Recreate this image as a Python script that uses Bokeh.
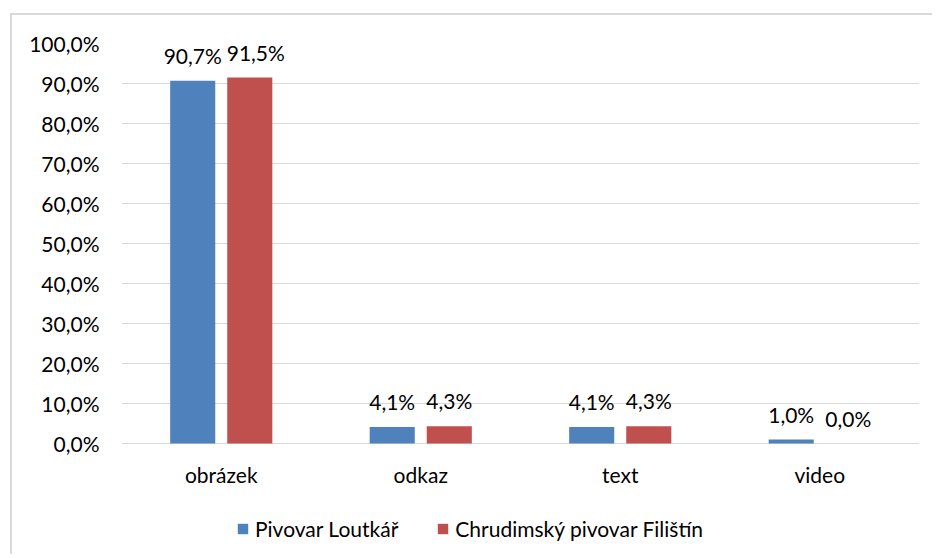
from bokeh.plotting import figure
from bokeh.models import (ColumnDataSource, FactorRange, Range1d, FixedTicker,
                          LabelSet, Legend, LegendItem)
from bokeh.transform import dodge
from bokeh.core.properties import value
from bokeh.embed import file_html
from bokeh.resources import INLINE

categories = ["obrázek", "odkaz", "text", "video"]
series_names = ["Pivovar Loutkář", "Chrudimský pivovar Filištín"]
loutkar = [90.7, 4.1, 4.1, 1.0]
filistin = [91.5, 4.3, 4.3, 0.0]
y_ticks = [0, 10, 20, 30, 40, 50, 60, 70, 80, 90, 100]
colors = ["#4F81BD", "#C0504D"]

FONT = "Lato"
FS = "21px"

def fmt(v):
    return f"{v:.1f}%".replace(".", ",")

# small horizontal nudge of the second series' labels where they would collide
label_nudge_b = [6 if v >= 10 else 0 for v in filistin]

src = ColumnDataSource(dict(
    cat=categories,
    a=loutkar,
    b=filistin,
    zero=[0] * len(categories),
    la=[fmt(v) for v in loutkar],
    lb=[fmt(v) for v in filistin],
    nb=label_nudge_b,
))

# frame extends below the 0 % line so that category labels and legend fit inside
p = figure(width=922, height=541, x_range=FactorRange(*categories, range_padding=0),
           y_range=Range1d(-28.25, 100), output_backend="svg", toolbar_location=None,
           min_border_left=109, min_border_right=15, min_border_top=28,
           min_border_bottom=0)
p.margin = (13, 0, 0, 10)
p.styles = {"border-top": "2px solid #d9d9d9", "border-left": "2px solid #d9d9d9"}
p.outline_line_color = None
p.background_fill_color = "white"
p.border_fill_color = "white"

r1 = p.vbar(x=dodge("cat", -0.143, range=p.x_range), top="a", width=0.226,
            source=src, fill_color=colors[0], line_color=None)
r2 = p.vbar(x=dodge("cat", 0.143, range=p.x_range), top="b", width=0.226,
            source=src, fill_color=colors[1], line_color=None)

p.add_layout(LabelSet(x=dodge("cat", -0.143, range=p.x_range),
                      y="a", text="la", source=src,
                      y_offset=17, text_align="center", text_baseline="alphabetic",
                      text_font=value(FONT), text_font_size=value(FS),
                      text_color="#000000"))
p.add_layout(LabelSet(x=dodge("cat", 0.143, range=p.x_range),
                      y="b", text="lb", source=src, x_offset="nb",
                      y_offset=17, text_align="center", text_baseline="alphabetic",
                      text_font=value(FONT), text_font_size=value(FS),
                      text_color="#000000"))

# category labels
p.add_layout(LabelSet(x="cat", y="zero", text="cat", source=src,
                      y_offset=-39, text_align="center", text_baseline="alphabetic",
                      text_font=value(FONT), text_font_size=value(FS),
                      text_color="#000000"))

# axes
p.yaxis.ticker = FixedTicker(ticks=y_ticks)
p.yaxis.major_label_overrides = {t: fmt(t) for t in y_ticks}
p.yaxis.axis_line_color = None
p.yaxis.major_tick_line_color = None
p.yaxis.minor_tick_line_color = None
p.yaxis.major_tick_out = 0
p.yaxis.major_label_standoff = 22
p.yaxis.major_label_text_font = FONT
p.yaxis.major_label_text_font_size = FS
p.yaxis.major_label_text_color = "#000000"

p.xaxis.visible = False

p.xgrid.grid_line_color = None
p.ygrid.grid_line_color = "#d9d9d9"
p.ygrid.grid_line_width = 1

legend = Legend(items=[LegendItem(label=series_names[0], renderers=[r1]),
                       LegendItem(label=series_names[1], renderers=[r2])],
                location=(115, 15), orientation="horizontal",
                glyph_width=13, glyph_height=13, label_standoff=6, spacing=38,
                padding=0, margin=0, border_line_color=None, background_fill_alpha=0,
                label_text_font=FONT, label_text_font_size=FS, label_text_color="#000000")
p.add_layout(legend, "center")

open("out.html", "w").write(file_html(p, INLINE))
